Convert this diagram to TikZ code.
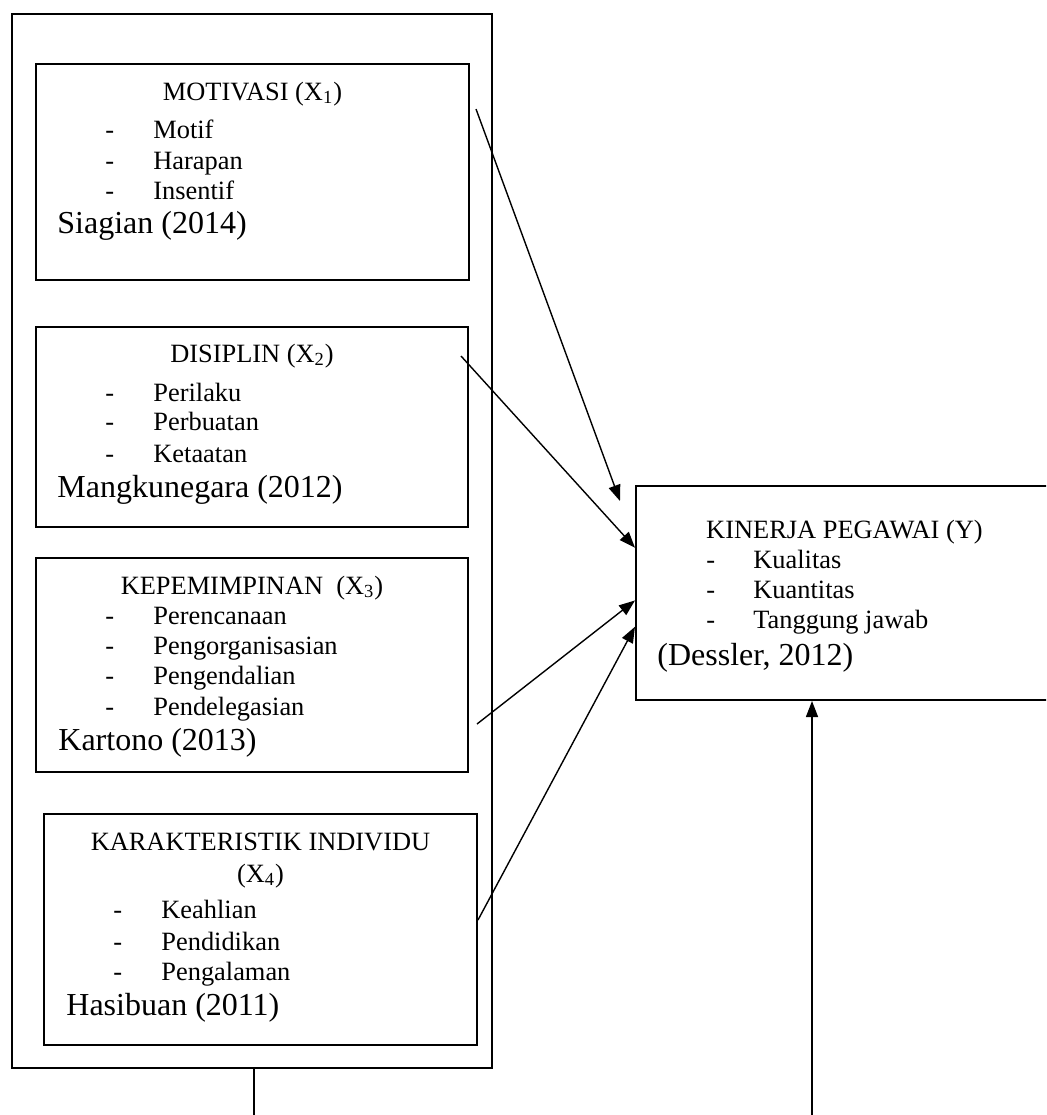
\documentclass[tikz,border=0pt]{standalone}
\usepackage{fontspec}
\setmainfont{Liberation Serif}
\usetikzlibrary{arrows.meta}
\tikzset{
  kotak/.style={draw, line width=1pt, inner sep=0pt},
  judul/.style={anchor=base, inner sep=0pt, font=\fontsize{13.2}{16}\selectfont},
  butir/.style={anchor=base west, inner sep=0pt, font=\fontsize{13.2}{16}\selectfont},
  sumber/.style={anchor=base west, inner sep=0pt, font=\fontsize{16}{19}\selectfont},
  panah/.style={-{Triangle[length=8pt,width=6pt]}, line width=0.7pt}
}
\begin{document}
\begin{tikzpicture}[x=0.5pt, y=-0.5pt]
        \useasboundingbox (0, 0) rectangle (1046, 1115);
        \clip (0, 0) rectangle (1046, 1115);
        % boxes
        \node[kotak, minimum width=240pt, minimum height=527pt] (luar) at (252, 541) {};
        \node[kotak, minimum width=216.5pt, minimum height=108pt] (mot) at (252.5, 172) {};
        \node[kotak, minimum width=216pt, minimum height=100pt] (dis) at (252, 427) {};
        \node[kotak, minimum width=216pt, minimum height=107pt] (kep) at (252, 665) {};
        \node[kotak, minimum width=216.5pt, minimum height=115.5pt] (kar) at (260.5, 929.5) {};
        \node[kotak, minimum width=212pt, minimum height=107pt] (kin) at (848, 593) {};

        % motivasi
        \node[judul] (mot0) at (252.5, 100) {MOTIVASI (X\textsubscript{1})};
        \node[butir] (mot1d) at (105, 138) {-};
        \node[butir] (mot1) at (153, 138) {Motif};
        \node[butir] (mot2d) at (105, 169) {-};
        \node[butir] (mot2) at (153, 169) {Harapan};
        \node[butir] (mot3d) at (105, 199) {-};
        \node[butir] (mot3) at (153, 199) {Insentif};
        \node[sumber] (motS) at (57, 233) {Siagian (2014)};

        % disiplin
        \node[judul] (dis0) at (252, 362) {DISIPLIN (X\textsubscript{2})};
        \node[butir] (dis1d) at (105, 401) {-};
        \node[butir] (dis1) at (153, 401) {Perilaku};
        \node[butir] (dis2d) at (105, 430) {-};
        \node[butir] (dis2) at (153, 430) {Perbuatan};
        \node[butir] (dis3d) at (105, 462) {-};
        \node[butir] (dis3) at (153, 462) {Ketaatan};
        \node[sumber] (disS) at (57, 497) {Mangkunegara (2012)};

        % kepemimpinan
        \node[judul] (kep0) at (252, 594) {KEPEMIMPINAN\ \ (X\textsubscript{3})};
        \node[butir] (kep1d) at (105, 624) {-};
        \node[butir] (kep1) at (153, 624) {Perencanaan};
        \node[butir] (kep2d) at (105, 654) {-};
        \node[butir] (kep2) at (153, 654) {Pengorganisasian};
        \node[butir] (kep3d) at (105, 684) {-};
        \node[butir] (kep3) at (153, 684) {Pengendalian};
        \node[butir] (kep4d) at (105, 715) {-};
        \node[butir] (kep4) at (153, 715) {Pendelegasian};
        \node[sumber] (kepS) at (58, 750) {Kartono (2013)};

        % karakteristik individu
        \node[judul] (kar0) at (260.5, 850) {KARAKTERISTIK INDIVIDU};
        \node[judul] (kar0b) at (260.5, 882) {(X\textsubscript{4})};
        \node[butir] (kar1d) at (113, 918) {-};
        \node[butir] (kar1) at (161, 918) {Keahlian};
        \node[butir] (kar2d) at (113, 950) {-};
        \node[butir] (kar2) at (161, 950) {Pendidikan};
        \node[butir] (kar3d) at (113, 980) {-};
        \node[butir] (kar3) at (161, 980) {Pengalaman};
        \node[sumber] (karS) at (66, 1015) {Hasibuan (2011)};

        % kinerja
        \node[judul] (kin0) at (844.5, 538) {KINERJA PEGAWAI (Y)};
        \node[butir] (kin1d) at (706, 568) {-};
        \node[butir] (kin1) at (753, 568) {Kualitas};
        \node[butir] (kin2d) at (706, 598) {-};
        \node[butir] (kin2) at (753, 598) {Kuantitas};
        \node[butir] (kin3d) at (706, 628) {-};
        \node[butir] (kin3) at (753, 628) {Tanggung jawab};
        \node[sumber] (kinS) at (657, 665) {(Dessler, 2012)};

        % arrows
        \coordinate (a1) at (476, 109);
        \coordinate (u1) at (620, 501);
        \coordinate (a2) at (461, 356);
        \coordinate (a3) at (477, 724);
        \coordinate (a4) at (478, 920);
        \coordinate (b1) at (254, 1115);
        \coordinate (b2) at (812, 1115);
        \draw[panah] (a1) -- (u1);
        \draw[panah] (a2) -- (kin.168.5);
        \draw[panah] (a3) -- (kin.182.7);
        \draw[panah] (a4) -- (kin.189.4);
        \draw[panah] (b2) -- (b2 |- kin.south);
        \draw[line width=0.7pt] (b1 |- luar.south) -- (b1);
\end{tikzpicture}
\end{document}
